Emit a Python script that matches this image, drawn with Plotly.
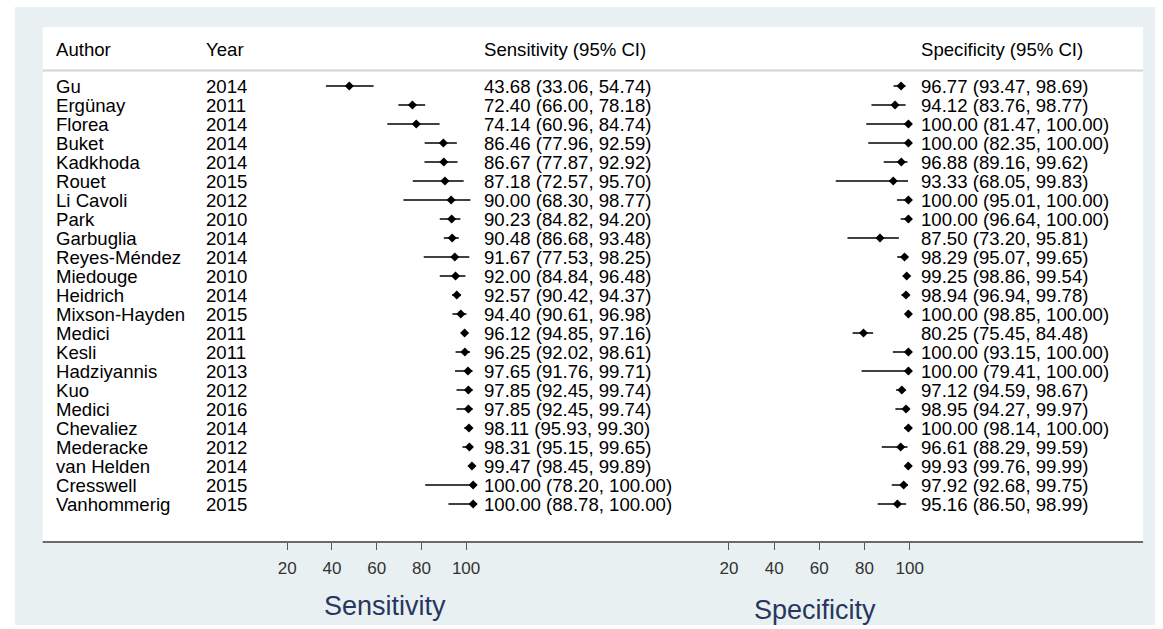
import plotly.graph_objects as go

W, H = 1163, 629

authors = ["Gu", "Ergünay", "Florea", "Buket", "Kadkhoda", "Rouet", "Li Cavoli", "Park",
           "Garbuglia", "Reyes-Méndez", "Miedouge", "Heidrich", "Mixson-Hayden", "Medici",
           "Kesli", "Hadziyannis", "Kuo", "Medici", "Chevaliez", "Mederacke", "van Helden",
           "Cresswell", "Vanhommerig"]
years = [2014, 2011, 2014, 2014, 2014, 2015, 2012, 2010, 2014, 2014, 2010, 2014, 2015, 2011,
         2011, 2013, 2012, 2016, 2014, 2012, 2014, 2015, 2015]

sens = [43.68, 72.40, 74.14, 86.46, 86.67, 87.18, 90.00, 90.23, 90.48, 91.67, 92.00, 92.57,
        94.40, 96.12, 96.25, 97.65, 97.85, 97.85, 98.11, 98.31, 99.47, 100.00, 100.00]
sens_lo = [33.06, 66.00, 60.96, 77.96, 77.87, 72.57, 68.30, 84.82, 86.68, 77.53, 84.84, 90.42,
           90.61, 94.85, 92.02, 91.76, 92.45, 92.45, 95.93, 95.15, 98.45, 78.20, 88.78]
sens_hi = [54.74, 78.18, 84.74, 92.59, 92.92, 95.70, 98.77, 94.20, 93.48, 98.25, 96.48, 94.37,
           96.98, 97.16, 98.61, 99.71, 99.74, 99.74, 99.30, 99.65, 99.89, 100.00, 100.00]

spec = [96.77, 94.12, 100.00, 100.00, 96.88, 93.33, 100.00, 100.00, 87.50, 98.29, 99.25, 98.94,
        100.00, 80.25, 100.00, 100.00, 97.12, 98.95, 100.00, 96.61, 99.93, 97.92, 95.16]
spec_lo = [93.47, 83.76, 81.47, 82.35, 89.16, 68.05, 95.01, 96.64, 73.20, 95.07, 98.86, 96.94,
           98.85, 75.45, 93.15, 79.41, 94.59, 94.27, 98.14, 88.29, 99.76, 92.68, 86.50]
spec_hi = [98.69, 98.77, 100.00, 100.00, 99.62, 99.83, 100.00, 100.00, 95.81, 99.65, 99.54, 99.78,
           100.00, 84.48, 100.00, 100.00, 98.67, 99.97, 100.00, 99.59, 99.99, 99.75, 98.99]

tick_vals = [20, 40, 60, 80, 100]

FONT = "Liberation Sans, Arial, Helvetica, sans-serif"


def fx(p):
    return p / W


def fy(p):
    return 1 - p / H


rows = list(range(len(authors)))
# row index -> pixel: 86 + 19*i
row0, rstep = 86.0, 19.0
y_range = [(H - row0) / rstep, -row0 / rstep]

fig = go.Figure()


def forest(vals, lo, hi, xa):
    fig.add_trace(go.Scatter(
        x=vals, y=rows, mode="markers", xaxis=xa, yaxis="y",
        marker=dict(symbol="diamond", size=7, color="black"),
        error_x=dict(type="data", symmetric=False,
                     array=[h - v for h, v in zip(hi, vals)],
                     arrayminus=[v - l for v, l in zip(vals, lo)],
                     thickness=1.6, width=0, color="black"),
        showlegend=False, hoverinfo="skip"))


forest(sens, sens_lo, sens_hi, "x")
forest(spec, spec_lo, spec_hi, "x2")

# invisible traces to carry the tick axes
for xa in ("x3", "x4"):
    fig.add_trace(go.Scatter(x=tick_vals, y=[rows[0]] * len(tick_vals), xaxis=xa, yaxis="y",
                             mode="markers", marker=dict(opacity=0), showlegend=False,
                             hoverinfo="skip"))


def data_axis(px0, px_zero, scale, px1):
    return dict(domain=[fx(px0), fx(px1)],
                range=[(px0 - px_zero) / scale, (px1 - px_zero) / scale],
                visible=False, anchor="y", fixedrange=True)


def tick_axis(px_zero, scale, px1):
    return dict(domain=[fx(px_zero), fx(px1)], range=[0, (px1 - px_zero) / scale],
                anchor="free", position=fy(542), showline=False, showgrid=False,
                zeroline=False, tickvals=tick_vals, ticks="outside", ticklen=7,
                tickwidth=1.4, tickcolor="#555", ticklabelstandoff=4,
                tickfont=dict(family=FONT, size=17, color="#333"), fixedrange=True)


fig.update_layout(
    width=W, height=H, margin=dict(l=0, r=0, t=0, b=0),
    paper_bgcolor="white", plot_bgcolor="rgba(0,0,0,0)",
    xaxis=data_axis(245, 255.0, 2.214, 485),
    xaxis2=data_axis(680, 685.7, 2.29, 922),
    xaxis3=tick_axis(244.3, 2.25, 480),
    xaxis4=tick_axis(688.5, 2.275, 922),
    yaxis=dict(domain=[0, 1], range=y_range, visible=False, fixedrange=True),
)

shapes = [
    dict(type="rect", xref="paper", yref="paper", x0=fx(15), x1=1, y0=fy(625), y1=fy(7),
         fillcolor="#e8f0f2", line=dict(width=0), layer="below"),
    dict(type="rect", xref="paper", yref="paper", x0=fx(43), x1=fx(1151), y0=fy(542), y1=fy(27),
         fillcolor="white", line=dict(width=0), layer="below"),
    dict(type="line", xref="paper", yref="paper", x0=fx(43), x1=fx(1151), y0=fy(70.5), y1=fy(70.5),
         line=dict(color="#d4d4d4", width=2)),
    dict(type="line", xref="paper", yref="paper", x0=fx(43), x1=fx(1151), y0=fy(542), y1=fy(542),
         line=dict(color="#6a6a6a", width=2)),
]
fig.update_layout(shapes=shapes)

ann = []
tfont = dict(family=FONT, size=18.6, color="black")


def txt(x, y, s, yref="y", font=tfont, xanchor="left"):
    ann.append(dict(x=x, y=y, xref="paper", yref=yref, text=s, showarrow=False,
                    xanchor=xanchor, yanchor="middle", font=font))


# headers
hy = fy(49)
txt(fx(54), hy, "Author", yref="paper")
txt(fx(205), hy, "Year", yref="paper")
txt(fx(485), hy, "Sensitivity (95% CI)", yref="paper")
txt(fx(925), hy, "Specificity (95% CI)", yref="paper")

for i in rows:
    txt(fx(54), i, authors[i])
    txt(fx(205), i, str(years[i]))
    txt(fx(485), i, f"{sens[i]:.2f} ({sens_lo[i]:.2f}, {sens_hi[i]:.2f})")
    txt(fx(925), i, f"{spec[i]:.2f} ({spec_lo[i]:.2f}, {spec_hi[i]:.2f})")

bfont = dict(family=FONT, size=27, color="#28365f")
txt(fx(388), fy(606), "Sensitivity", yref="paper", font=bfont, xanchor="center")
txt(fx(821), fy(610), "Specificity", yref="paper", font=bfont, xanchor="center")

fig.update_layout(annotations=ann)

fig.write_html(
    "out.html", config={"displayModeBar": False},
    post_script=("document.documentElement.style.overflow='hidden';"
                 "document.body.style.overflow='hidden';"
                 "document.body.style.margin='0';document.body.style.padding='0';"
                 "var gd=document.getElementById('{plot_id}');"
                 "var w=document.documentElement.clientWidth, h=document.documentElement.clientHeight;"
                 "if(w>0&&h>0&&(w!==gd.layout.width||h!==gd.layout.height))"
                 "{Plotly.relayout(gd,{width:w,height:h});}"))
